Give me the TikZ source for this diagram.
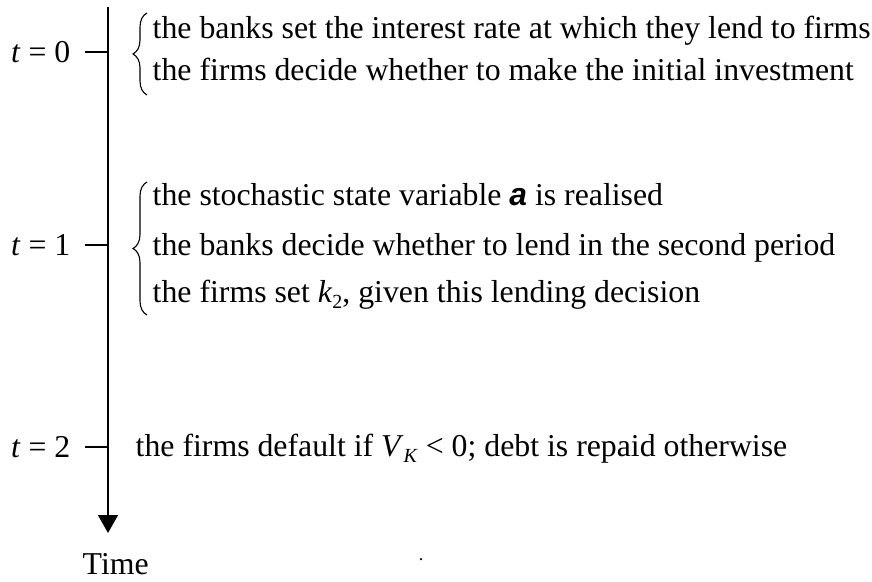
\documentclass[tikz,border=0pt]{standalone}
\usepackage{fontspec}
\setmainfont{Liberation Serif}
\newfontfamily\alphafont{Liberation Sans}
\usetikzlibrary{arrows.meta,decorations.pathreplacing,positioning}
\newcommand{\lowsub}[1]{\raisebox{-0.45ex}{\fontsize{20}{20}\selectfont #1}}

\begin{document}
\begin{tikzpicture}[x=1pt, y=1pt, line width=1.4pt,
      every node/.style={font=\fontsize{31.8}{38}\selectfont, inner sep=0pt},
      lbl/.style={left=14pt of #1},
      evt/.style={anchor=base west},
      brc/.style={decorate, decoration={brace, amplitude=14pt}, line width=1.1pt}]
      \useasboundingbox (0,0) rectangle (872,-581);

      \coordinate (top) at (108,-7);
      \coordinate (tip) at (108,-533);
      \coordinate (T0) at (108,-52);
      \coordinate (T1) at (108,-245);
      \coordinate (T2) at (108,-447);
      \coordinate (L0) at (85,-52);
      \coordinate (L1) at (85,-245);
      \coordinate (L2) at (85,-447);

      \draw[-{Triangle[length=18pt,width=20pt]}] (top) -- (tip);
      \draw (T0) -- (L0);
      \draw (T1) -- (L1);
      \draw (T2) -- (L2);

      \node[lbl=L0] (t0) {\textit{t} = 0};
      \node[lbl=L1] (t1) {\textit{t} = 1};
      \node[lbl=L2] (t2) {\textit{t} = 2};

      \coordinate (B0a) at (147,-95);
      \coordinate (B0b) at (147,-13);
      \coordinate (B1a) at (147,-315);
      \coordinate (B1b) at (147,-182);
      \draw[brc] (B0a) -- (B0b);
      \draw[brc] (B1a) -- (B1b);

      \node[evt] (e01) at (152,-38) {the banks set the interest rate at which they lend to firms};
      \node[evt] (e02) at (152,-80) {the firms decide whether to make the initial investment};
      \node[evt] (e11) at (152,-205) {the stochastic state variable {\alphafont\bfseries\itshape a} is realised};
      \node[evt] (e12) at (152,-255) {the banks decide whether to lend in the second period};
      \node[evt] (e13) at (152,-302) {the firms set \textit{k}\lowsub{2}, given this lending decision};
      \node[evt] (e21) at (135,-456) {the firms default if \textit{V}\lowsub{\textit{K}} < 0; debt is repaid otherwise};

      \node[evt] (time) at (82,-574) {Time};
      \node[circle, fill, minimum size=2.5pt] (dot) at (421,-559) {};
    \end{tikzpicture}
\end{document}
